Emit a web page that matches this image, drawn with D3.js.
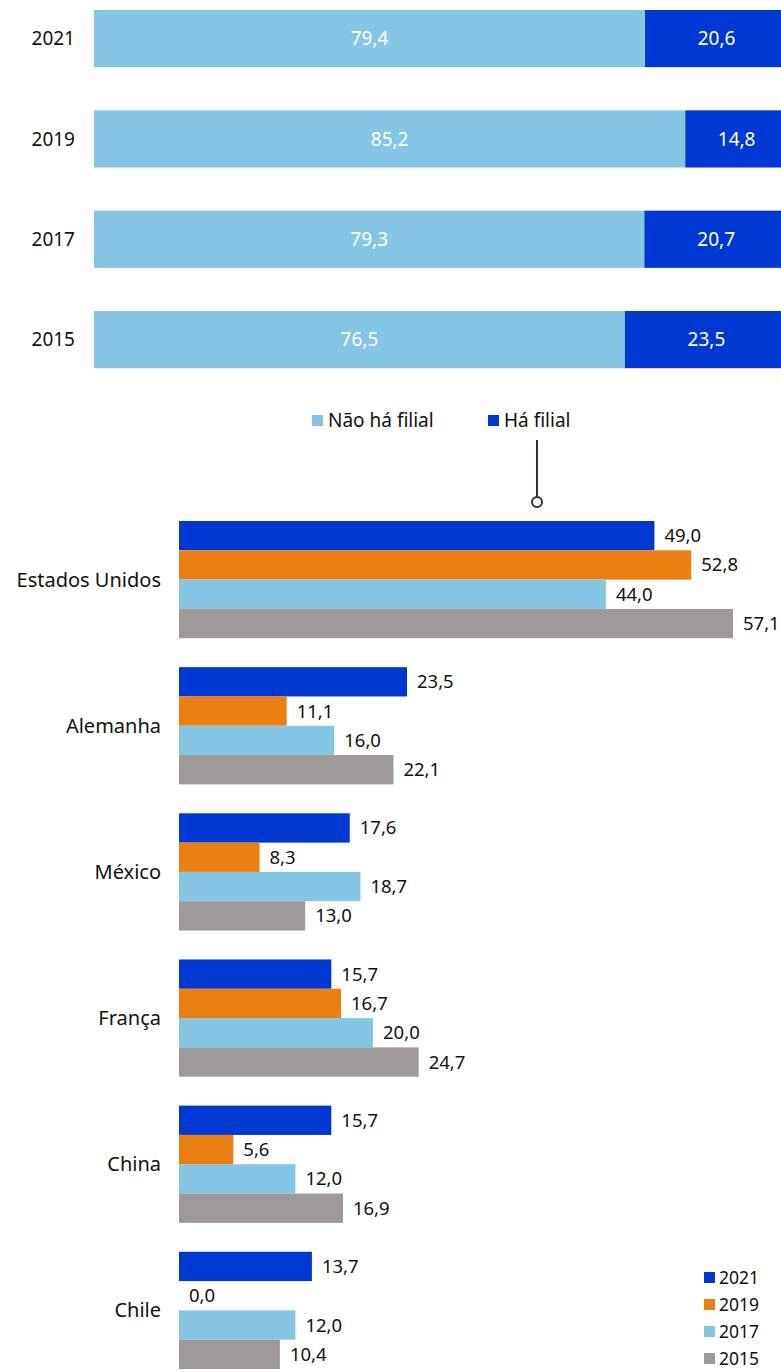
<!DOCTYPE html>
<html>
<head>
<meta charset="utf-8">
<script src="https://cdnjs.cloudflare.com/ajax/libs/d3/7.8.5/d3.min.js"></script>
<style>
  body { margin: 0; background: #fff; }
  svg { display: block; font-family: "Noto Sans", "Open Sans", sans-serif; }
</style>
</head>
<body>
<svg id="chart" width="781" height="1372"></svg>
<script>
// top stacked chart
var topYears = ['2021', '2019', '2017', '2015'];
var semFilial = [79.4, 85.2, 79.3, 76.5];
var comFilial = [20.6, 14.8, 20.7, 23.5];
var topLegend = ['Não há filial', 'Há filial'];

// bottom grouped chart
var countries = ['Estados Unidos', 'Alemanha', 'México', 'França', 'China', 'Chile'];
var years = ['2021', '2019', '2017', '2015'];
var v2021 = [49.0, 23.5, 17.6, 15.7, 15.7, 13.7];
var v2019 = [52.8, 11.1, 8.3, 16.7, 5.6, 0.0];
var v2017 = [44.0, 16.0, 18.7, 20.0, 12.0, 12.0];
var v2015 = [57.1, 22.1, 13.0, 24.7, 16.9, 10.4];

var DARK = '#0039d1', ORANGE = '#ea7f12', LIGHT = '#84c6e3', GREY = '#9e9a99';
var yearColor = d3.scaleOrdinal().domain(years).range([DARK, ORANGE, LIGHT, GREY]);

var fmt = d3.formatLocale({decimal: ',', thousands: '.', grouping: [3], currency: ['', '']}).format('.1f');
var svg = d3.select('#chart');

// ---- top chart ----
var xTop = d3.scaleLinear().domain([0, 100]).range([94, 788]);
var yTop = d3.scaleBand().domain(topYears).range([10, 368.2]).paddingInner(0.43).paddingOuter(0);

var topRows = topYears.map(function (y, i) {
    return {year: y, parts: [
        {key: 'sem', x0: 0, x1: semFilial[i], v: semFilial[i], color: LIGHT},
        {key: 'com', x0: semFilial[i], x1: semFilial[i] + comFilial[i], v: comFilial[i], color: DARK}
    ]};
});

var rowG = svg.append('g').selectAll('g').data(topRows).enter().append('g')
    .attr('transform', function (d) { return 'translate(0,' + yTop(d.year) + ')'; });

rowG.selectAll('rect').data(function (d) { return d.parts; }).enter().append('rect')
    .attr('x', function (d) { return xTop(d.x0); })
    .attr('width', function (d) { return xTop(d.x1) - xTop(d.x0); })
    .attr('height', yTop.bandwidth())
    .attr('fill', function (d) { return d.color; });

rowG.selectAll('text.val').data(function (d) { return d.parts; }).enter().append('text')
    .attr('class', 'val')
    .attr('x', function (d) { return (xTop(d.x0) + xTop(d.x1)) / 2; })
    .attr('y', yTop.bandwidth() / 2)
    .attr('dy', '0.35em')
    .attr('text-anchor', 'middle')
    .attr('fill', '#fff')
    .attr('font-size', 19)
    .text(function (d) { return fmt(d.v); });

rowG.append('text')
    .attr('x', 75)
    .attr('y', yTop.bandwidth() / 2)
    .attr('dy', '0.35em')
    .attr('text-anchor', 'end')
    .attr('fill', '#111')
    .attr('font-size', 19)
    .text(function (d) { return d.year; });

// top legend
var topLeg = svg.append('g').selectAll('g').data(topLegend).enter().append('g')
    .attr('transform', function (d, i) { return 'translate(' + [312, 488][i] + ',415)'; });
topLeg.append('rect').attr('width', 11).attr('height', 11)
    .attr('fill', function (d, i) { return i ? DARK : LIGHT; });
topLeg.append('text').attr('x', 16).attr('y', 5.5).attr('dy', '0.35em')
    .attr('font-size', 19).attr('fill', '#111').text(function (d) { return d; });

// connector
svg.append('line').attr('x1', 537).attr('x2', 537).attr('y1', 440).attr('y2', 497)
    .attr('stroke', '#3a2f2d').attr('stroke-width', 2);
svg.append('circle').attr('cx', 537).attr('cy', 502).attr('r', 5)
    .attr('fill', '#fff').attr('stroke', '#3a2f2d').attr('stroke-width', 2);

// ---- bottom chart ----
var series = [v2021, v2019, v2017, v2015];
var x = d3.scaleLinear().domain([0, 57.1]).range([179, 733]);
var y0 = d3.scaleBand().domain(countries).range([521, 1369]).paddingInner(0.198).paddingOuter(0);
var y1 = d3.scaleBand().domain(years).range([0, y0.bandwidth()]);

var groups = svg.append('g').selectAll('g').data(countries).enter().append('g')
    .attr('transform', function (d) { return 'translate(0,' + y0(d) + ')'; });

groups.append('text')
    .attr('x', 161)
    .attr('y', y0.bandwidth() / 2)
    .attr('dy', '0.35em')
    .attr('text-anchor', 'end')
    .attr('font-size', 20)
    .attr('fill', '#111')
    .text(function (d) { return d; });

var cells = groups.selectAll('g').data(function (c, ci) {
    return years.map(function (yr, yi) { return {year: yr, v: series[yi][ci]}; });
}).enter().append('g');

cells.append('rect')
    .attr('x', x(0))
    .attr('y', function (d) { return y1(d.year); })
    .attr('width', function (d) { return x(d.v) - x(0); })
    .attr('height', y1.bandwidth())
    .attr('fill', function (d) { return yearColor(d.year); });

cells.append('text')
    .attr('x', function (d) { return x(d.v) + 10; })
    .attr('y', function (d) { return y1(d.year) + y1.bandwidth() / 2; })
    .attr('dy', '0.35em')
    .attr('font-size', 18.5)
    .attr('fill', '#111')
    .text(function (d) { return fmt(d.v); });

// bottom legend
var leg = svg.append('g').selectAll('g').data(years).enter().append('g')
    .attr('transform', function (d, i) { return 'translate(704,' + (1272 + i * 27) + ')'; });
leg.append('rect').attr('width', 11).attr('height', 11).attr('fill', function (d) { return yearColor(d); });
leg.append('text').attr('x', 15).attr('y', 5.5).attr('dy', '0.35em')
    .attr('font-size', 17.5).attr('fill', '#111').text(function (d) { return d; });
</script>
</body>
</html>
